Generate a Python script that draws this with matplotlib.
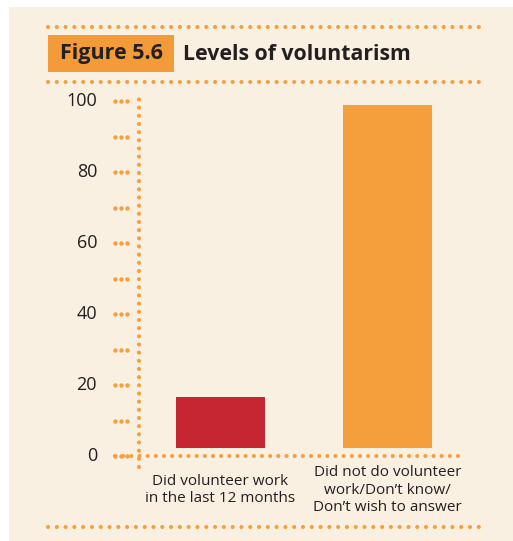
import matplotlib.pyplot as plt
from matplotlib.patches import Rectangle
import matplotlib.transforms as mtransforms

# chart data
categories = ["Did volunteer work\nin the last 12 months",
              "Did not do volunteer\nwork/Don\u2019t know/\nDon\u2019t wish to answer"]
values = [16.6, 98.9]
bar_colors = ["#C62631", "#F49E3C"]
yticks = [0, 20, 40, 60, 80, 100]
minor_ticks = [10, 30, 50, 70, 90]

W, H = 513, 541
cream = "#F9F0E1"
orange = "#F4A03F"
dark = "#231F20"
plt.rcParams['font.family'] = ['Open Sans', 'DejaVu Sans']

fig = plt.figure(figsize=(W / 100, H / 100), dpi=100)
fig.patch.set_facecolor("white")

def fx(px):
    return px / W

def fy(py):
    return 1 - py / H

# cream panel
fig.patches.append(Rectangle((fx(9), 0), 1 - fx(9), fy(7), transform=fig.transFigure,
                             facecolor=cream, edgecolor="none", zorder=-5))

# dotted rules
def rule(y):
    fig.add_artist(plt.Line2D([fx(48), fx(487)], [fy(y), fy(y)], transform=fig.transFigure,
                              color=orange, lw=3.0, linestyle=(0, (0.01, 2.1)),
                              dash_capstyle="round", zorder=1))

rule(27)
rule(82)
rule(527)

# title box
fig.patches.append(Rectangle((fx(48), fy(72)), fx(174) - fx(48), fy(35) - fy(72),
                             transform=fig.transFigure, facecolor="#F39B38",
                             edgecolor="none", zorder=1))
fig.text(fx(111), fy(54), "Figure 5.6", ha="center", va="center", fontsize=15.5,
         fontweight="bold", color=dark)
fig.text(fx(183), fy(54), "Levels of voluntarism", ha="left", va="center", fontsize=15.3,
         fontweight="bold", color=dark)

# axes
ax = fig.add_axes([fx(139), fy(467), fx(462) - fx(139), fy(93) - fy(467)])
ax.set_facecolor("none")
for s in ax.spines.values():
    s.set_visible(False)
ax.set_xticks([])
ax.set_yticks([])

base = 2.3  # bars sit a little above the zero line
xs = list(range(len(values)))
ax.bar(xs, [v - base for v in values], bottom=base, width=0.533, color=bar_colors,
       zorder=3)
ax.set_xlim(-0.488, 1.446)
ax.set_ylim(-3.1, 102.3)

yt = ax.get_yaxis_transform()
apx = ax.get_position().width * W  # axes width in pixels

def axx(px):
    return (px - 139) / apx

# y axis line
ax.plot([0, 0], [-3.1, 102.3], transform=yt, color=orange, lw=3.0,
        linestyle=(0, (0.01, 1.95)), dash_capstyle="round", clip_on=False, zorder=2)
# x axis line
ax.plot([axx(115), 1], [0, 0], transform=yt, color=orange, lw=3.0,
        linestyle=(0, (0.01, 1.95)), dash_capstyle="round", clip_on=False, zorder=2)

# tick dots and labels
for t in yticks + minor_ticks:
    ax.plot([axx(115), axx(121), axx(127)], [t] * 3, transform=yt, ls="none",
            marker="o", ms=3.2, color=orange, mec="none", clip_on=False)
for t in yticks:
    ax.text(axx(97), t, str(t), transform=yt, ha="right", va="center",
            fontsize=13, color=dark)

# category labels
lab_tr = mtransforms.blended_transform_factory(ax.transData, fig.transFigure)
for x, lab in zip(xs, categories):
    ax.text(x, fy(490), lab, transform=lab_tr, ha="center", va="center",
            fontsize=11, color=dark, linespacing=1.2)

fig.savefig("out.png", dpi=100, facecolor=fig.get_facecolor())
